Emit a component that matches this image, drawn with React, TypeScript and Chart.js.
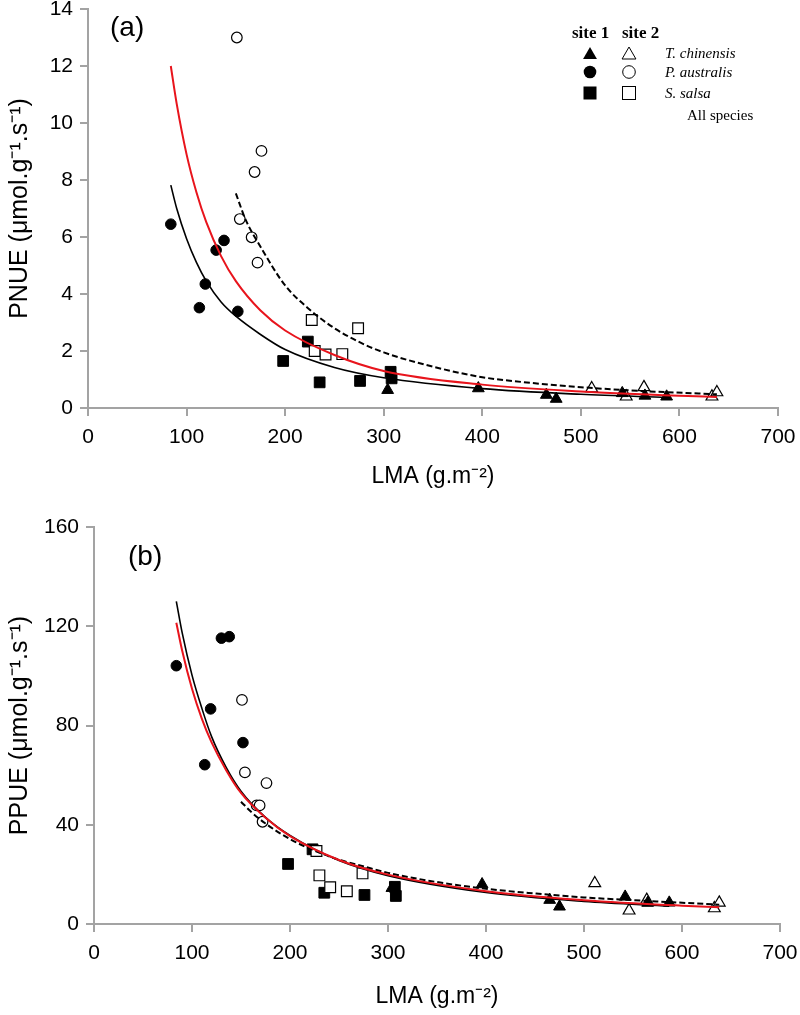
import React, { useEffect, useRef } from 'react';
import { Chart, registerables } from 'chart.js';

Chart.register(...registerables);

const FONT = "'Liberation Sans', Arial, sans-serif";
const SERIF = "'Liberation Serif', 'Times New Roman', serif";
const RED = '#e8141c';
const AXIS = '#a3a3a3';

// ---- Axis ranges / ticks ----
const xRange = [0, 700];
const xStep = 100;
const pnueRange = [0, 14];
const pnueStep = 2;
const ppueRange = [0, 160];
const ppueStep = 40;

// ---- T. chinensis (triangles) ----
const tcSite1LMA = [304, 396, 465, 475, 542, 565, 587];
const tcSite1PNUE = [0.63, 0.69, 0.46, 0.32, 0.52, 0.43, 0.4];
const tcSite1PPUE = [14.5, 16.0, 9.7, 7.0, 11.0, 8.5, 8.6];
const tcSite2LMA = [511, 546, 564, 633, 638];
const tcSite2PNUE = [0.69, 0.4, 0.73, 0.4, 0.55];
const tcSite2PPUE = [16.4, 5.4, 9.7, 6.3, 8.6];

// ---- P. australis (circles) ----
const paSite1LMA = [84, 113, 119, 130, 138, 152];
const paSite1PNUE = [6.45, 3.52, 4.35, 5.54, 5.88, 3.39];
const paSite1PPUE = [104.1, 64.2, 86.7, 115.2, 115.8, 73.1];
const paSite2LMA = [151, 154, 166, 169, 172, 176];
const paSite2PNUE = [13.0, 6.63, 5.99, 8.28, 5.1, 9.02];
const paSite2PPUE = [90.3, 61.1, 47.8, 47.8, 41.2, 56.8];

// ---- S. salsa (squares) ----
const ssSite1LMA = [198, 223, 235, 276, 307, 308];
const ssSite1PNUE = [1.65, 2.33, 0.9, 0.95, 1.27, 1.04];
const ssSite1PPUE = [24.2, 30.1, 12.6, 11.7, 15.0, 11.3];
const ssSite2LMA = [227, 230, 241, 258, 274];
const ssSite2PNUE = [3.09, 2.0, 1.88, 1.89, 2.8];
const ssSite2PPUE = [29.4, 19.6, 14.8, 13.2, 20.4];

// ---- Fitted curves ----
const fitSite1LMA = [84, 90, 100, 110, 120, 135, 150, 175, 200, 250, 300, 400, 500, 587];
const fitSite1PNUE = [7.82, 7.0, 5.94, 5.11, 4.45, 3.72, 3.22, 2.58, 2.05, 1.42, 1.06, 0.68, 0.48, 0.37];
const fitSite1PPUE = [130, 117.3, 100.3, 87.0, 75.5, 63.0, 53.5, 43.0, 35.7, 25.6, 19.5, 12.7, 9.1, 7.2];

const fitAllLMA = [84, 90, 100, 110, 120, 135, 150, 175, 200, 250, 300, 400, 500, 600, 638];
const fitAllPNUE = [12.0, 10.67, 8.9, 7.57, 6.52, 5.33, 4.45, 3.42, 2.72, 1.86, 1.3, 0.82, 0.58, 0.43, 0.39];
const fitAllPPUE = [121.4, 110.1, 94.8, 82.8, 73.2, 61.9, 52.8, 42.8, 35.4, 25.8, 19.9, 13.2, 9.6, 7.4, 6.8];

const fitSite2LMA = [150, 160, 175, 200, 225, 250, 276, 300, 350, 400, 450, 500, 560, 638];
const fitSite2PNUE = [7.53, 6.6, 5.66, 4.3, 3.45, 2.8, 2.3, 1.95, 1.45, 1.08, 0.88, 0.73, 0.6, 0.48];
const fitSite2PPUE = [49.3, 45.3, 40.5, 34.2, 29.6, 25.9, 23.1, 20.6, 16.9, 14.2, 12.3, 10.7, 9.4, 7.8];

const pts = (xs: number[], ys: number[]) => xs.map((x, i) => ({ x, y: ys[i] }));

function pointSet(label: string, xs: number[], ys: number[], style: string, radius: number, filled: boolean) {
  return {
    label,
    data: pts(xs, ys),
    pointStyle: style,
    pointRadius: radius,
    pointHoverRadius: radius,
    backgroundColor: filled ? '#000' : '#fff',
    borderColor: '#000',
    borderWidth: filled ? 1 : 1.2,
    showLine: false,
  };
}

function lineSet(label: string, xs: number[], ys: number[], color: string, width: number, dash: number[]) {
  return {
    label,
    data: pts(xs, ys),
    showLine: true,
    pointRadius: 0,
    pointHoverRadius: 0,
    borderColor: color,
    backgroundColor: color,
    borderWidth: width,
    borderDash: dash,
    cubicInterpolationMode: 'monotone',
    fill: false,
  };
}

function drawLegend(ctx: CanvasRenderingContext2D) {
  ctx.save();
  ctx.fillStyle = '#000';
  ctx.strokeStyle = '#000';
  ctx.textBaseline = 'middle';
  ctx.textAlign = 'left';
  ctx.font = `bold 17px ${SERIF}`;
  ctx.fillText('site 1', 572, 34);
  ctx.fillText('site 2', 622, 34);

  const tri = (x: number, y: number, filled: boolean) => {
    const r = 8;
    ctx.beginPath();
    ctx.moveTo(x, y - r);
    ctx.lineTo(x + r * 0.866, y + r / 2);
    ctx.lineTo(x - r * 0.866, y + r / 2);
    ctx.closePath();
    ctx.lineWidth = 1;
    if (filled) ctx.fill();
    else ctx.stroke();
  };
  const circ = (x: number, y: number, filled: boolean) => {
    ctx.beginPath();
    ctx.arc(x, y, 6.3, 0, Math.PI * 2);
    ctx.lineWidth = 1;
    if (filled) ctx.fill();
    else ctx.stroke();
  };
  const sq = (x: number, y: number, filled: boolean) => {
    ctx.lineWidth = 1;
    if (filled) ctx.fillRect(x - 6.5, y - 6.5, 13, 13);
    else ctx.strokeRect(x - 6.5, y - 6.5, 13, 13);
  };
  tri(590, 55, true);
  tri(629, 55, false);
  circ(590, 72, true);
  circ(629, 72, false);
  sq(590, 93, true);
  sq(629, 93, false);

  ctx.font = `italic 15px ${SERIF}`;
  ctx.fillText('T. chinensis', 665, 54);
  ctx.fillText('P. australis', 665, 73);
  ctx.fillText('S. salsa', 665, 94);
  ctx.font = `15px ${SERIF}`;
  ctx.fillText('All species', 687, 116);
  ctx.restore();
}

type PanelOpts = {
  height: number;
  left: number;
  right: number;
  top: number;
  bottom: number;
  yRange: number[];
  yStep: number;
  yTitle: string;
  tag: string;
  tagX: number;
  tagY: number;
  titlePadBottom: number;
  legend: boolean;
  datasets: any[];
};

function makeConfig(o: PanelOpts): any {
  const labelPlugin = {
    id: 'panelLabel' + o.tag,
    afterDraw(chart: any) {
      const ctx = chart.ctx as CanvasRenderingContext2D;
      ctx.save();
      ctx.fillStyle = '#000';
      ctx.font = `28px ${FONT}`;
      ctx.textBaseline = 'middle';
      ctx.textAlign = 'left';
      ctx.fillText(o.tag, o.tagX, o.tagY);
      ctx.restore();
      if (o.legend) drawLegend(ctx);
    },
  };
  return {
    type: 'scatter',
    data: { datasets: o.datasets },
    options: {
      responsive: false,
      animation: false,
      events: [],
      layout: { padding: { left: 0, right: 800 - o.right, top: o.top, bottom: 0 } },
      plugins: { legend: { display: false }, tooltip: { enabled: false } },
      scales: {
        x: {
          type: 'linear',
          min: xRange[0],
          max: xRange[1],
          ticks: { stepSize: xStep, color: '#000', font: { family: FONT, size: 21 }, padding: 9, maxRotation: 0 },
          grid: { drawOnChartArea: false, drawTicks: true, tickLength: 8, color: AXIS, lineWidth: 2 },
          border: { color: AXIS, width: 2 },
          title: {
            display: true,
            text: 'LMA (g.m⁻²)',
            color: '#000',
            font: { family: FONT, size: 23 },
            padding: { top: 0, bottom: o.titlePadBottom },
          },
          afterFit: (s: any) => {
            s.height = o.height - o.bottom;
            s.paddingLeft = 0;
            s.paddingRight = 0;
          },
        },
        y: {
          type: 'linear',
          min: o.yRange[0],
          max: o.yRange[1],
          ticks: { stepSize: o.yStep, color: '#000', font: { family: FONT, size: 21 }, padding: 7 },
          grid: { drawOnChartArea: false, drawTicks: true, tickLength: 8, color: AXIS, lineWidth: 2 },
          border: { color: AXIS, width: 2 },
          title: {
            display: true,
            text: o.yTitle,
            color: '#000',
            font: { family: FONT, size: 25 },
            padding: { top: 5, bottom: 0 },
          },
          afterFit: (s: any) => {
            s.width = o.left;
            s.paddingTop = 0;
            s.paddingBottom = 0;
          },
        },
      },
    },
    plugins: [labelPlugin],
  };
}

const TRI = 6.8;
const CIR = 5.3;
const SQR = 7.6;

export default function App() {
  const refA = useRef<HTMLCanvasElement>(null);
  const refB = useRef<HTMLCanvasElement>(null);

  useEffect(() => {
    const cfgA = makeConfig({
      height: 500,
      left: 88,
      right: 778,
      top: 9,
      bottom: 408,
      yRange: pnueRange,
      yStep: pnueStep,
      yTitle: 'PNUE (μmol.g⁻¹.s⁻¹)',
      tag: '(a)',
      tagX: 110,
      tagY: 28,
      titlePadBottom: 10,
      legend: true,
      datasets: [
        lineSet('All species', fitAllLMA, fitAllPNUE, RED, 2, []),
        lineSet('site 1 fit', fitSite1LMA, fitSite1PNUE, '#000', 1.6, []),
        lineSet('site 2 fit', fitSite2LMA, fitSite2PNUE, '#000', 2, [6, 3]),
        pointSet('T. chinensis site 1', tcSite1LMA, tcSite1PNUE, 'triangle', TRI, true),
        pointSet('T. chinensis site 2', tcSite2LMA, tcSite2PNUE, 'triangle', TRI, false),
        pointSet('P. australis site 1', paSite1LMA, paSite1PNUE, 'circle', CIR, true),
        pointSet('P. australis site 2', paSite2LMA, paSite2PNUE, 'circle', CIR, false),
        pointSet('S. salsa site 2', ssSite2LMA, ssSite2PNUE, 'rect', SQR, false),
        pointSet('S. salsa site 1', ssSite1LMA, ssSite1PNUE, 'rect', SQR, true),
      ],
    });
    const cfgB = makeConfig({
      height: 515,
      left: 94,
      right: 780,
      top: 27,
      bottom: 424,
      yRange: ppueRange,
      yStep: ppueStep,
      yTitle: 'PPUE (μmol.g⁻¹.s⁻¹)',
      tag: '(b)',
      tagX: 128,
      tagY: 57,
      titlePadBottom: 5,
      legend: false,
      datasets: [
        lineSet('All species', fitAllLMA, fitAllPPUE, RED, 2, []),
        lineSet('site 1 fit', fitSite1LMA, fitSite1PPUE, '#000', 1.6, []),
        lineSet('site 2 fit', fitSite2LMA, fitSite2PPUE, '#000', 2, [6, 3]),
        pointSet('T. chinensis site 1', tcSite1LMA, tcSite1PPUE, 'triangle', TRI, true),
        pointSet('T. chinensis site 2', tcSite2LMA, tcSite2PPUE, 'triangle', TRI, false),
        pointSet('P. australis site 1', paSite1LMA, paSite1PPUE, 'circle', CIR, true),
        pointSet('P. australis site 2', paSite2LMA, paSite2PPUE, 'circle', CIR, false),
        pointSet('S. salsa site 2', ssSite2LMA, ssSite2PPUE, 'rect', SQR, false),
        pointSet('S. salsa site 1', ssSite1LMA, ssSite1PPUE, 'rect', SQR, true),
      ],
    });
    const a = new Chart(refA.current as HTMLCanvasElement, cfgA);
    const b = new Chart(refB.current as HTMLCanvasElement, cfgB);
    return () => {
      a.destroy();
      b.destroy();
    };
  }, []);

  return (
    <div style={{ position: 'absolute', left: 0, top: 0, width: 800, height: 1015, background: '#fff', overflow: 'hidden' }}>
      <canvas ref={refA} width={800} height={500} style={{ position: 'absolute', left: 0, top: 0, width: 800, height: 500 }} />
      <canvas ref={refB} width={800} height={515} style={{ position: 'absolute', left: 0, top: 500, width: 800, height: 515 }} />
    </div>
  );
}
